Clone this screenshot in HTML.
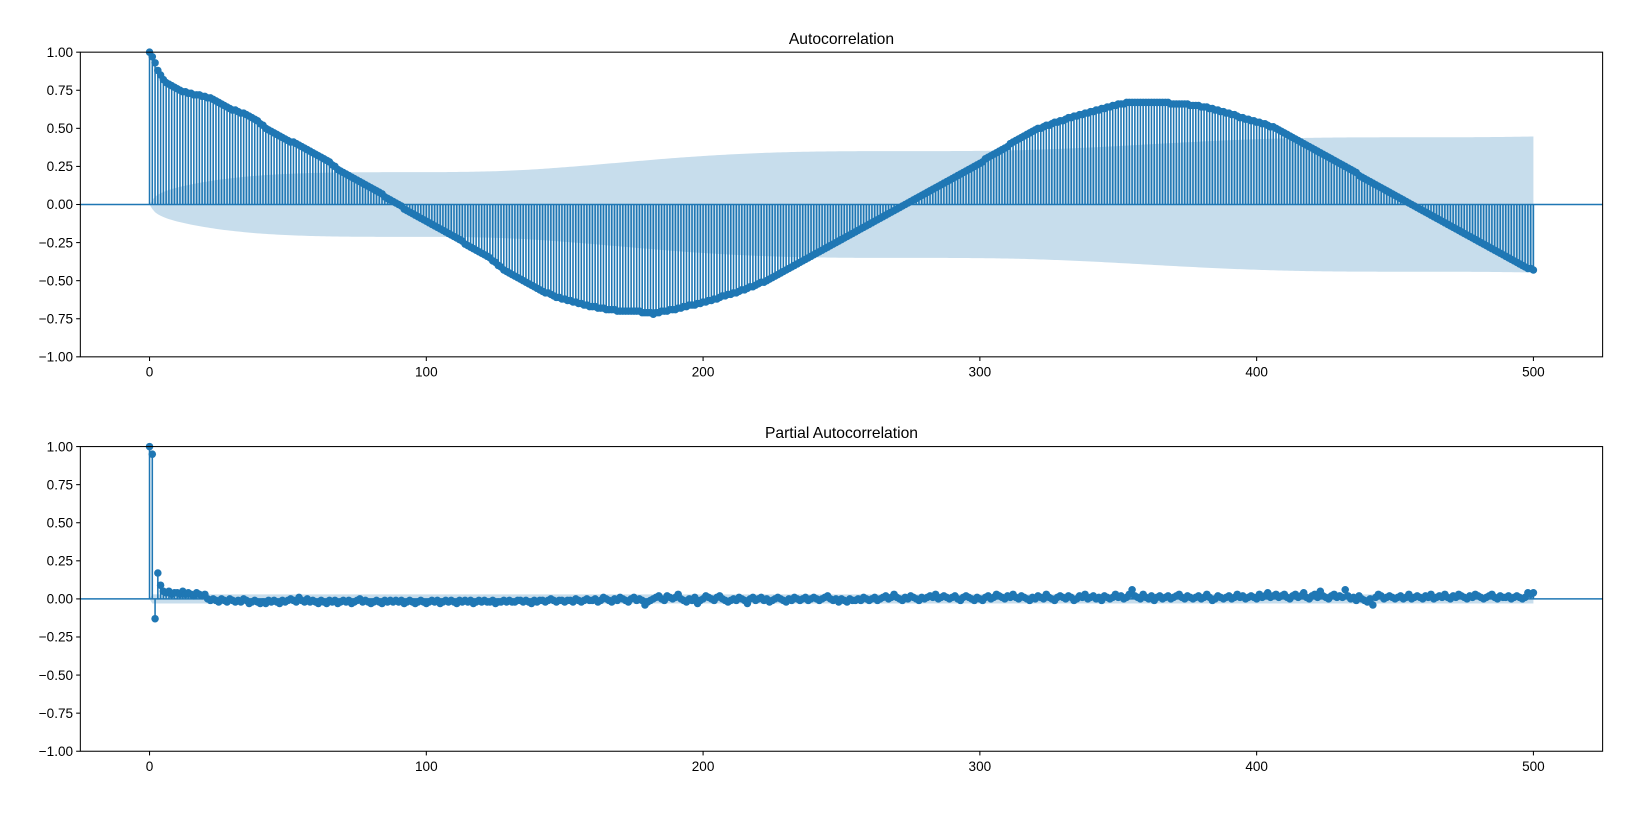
<!DOCTYPE html>
<html><head><meta charset="utf-8"><style>
body{margin:0;background:#fff}
svg text{font-family:"Liberation Sans","DejaVu Sans",sans-serif;fill:#000}
</style></head><body>
<svg id="chart" width="1636" height="808" viewBox="0 0 1568 774.4" preserveAspectRatio="none" xmlns="http://www.w3.org/2000/svg"></svg>
<script>
const lags = Array.from({length:501},(_,i)=>i);
const acfValues = [
1.00,0.97,0.93,0.88,0.85,0.82,0.80,0.79,0.78,0.77,
0.76,0.75,0.74,0.74,0.73,0.73,0.72,0.72,0.72,0.71,
0.71,0.70,0.70,0.69,0.68,0.67,0.66,0.65,0.64,0.63,
0.62,0.62,0.61,0.60,0.60,0.59,0.58,0.57,0.56,0.55,
0.53,0.52,0.50,0.49,0.48,0.47,0.46,0.45,0.44,0.43,
0.42,0.41,0.41,0.40,0.39,0.38,0.37,0.36,0.35,0.34,
0.33,0.32,0.31,0.30,0.29,0.28,0.26,0.25,0.23,0.22,
0.21,0.20,0.19,0.18,0.17,0.16,0.15,0.14,0.13,0.12,
0.11,0.10,0.09,0.08,0.07,0.05,0.04,0.03,0.02,0.01,
0.00,-0.01,-0.03,-0.04,-0.05,-0.06,-0.07,-0.08,-0.09,-0.10,
-0.11,-0.12,-0.13,-0.14,-0.15,-0.16,-0.17,-0.18,-0.19,-0.20,
-0.21,-0.22,-0.23,-0.24,-0.26,-0.27,-0.28,-0.29,-0.30,-0.31,
-0.32,-0.33,-0.34,-0.35,-0.37,-0.38,-0.40,-0.41,-0.43,-0.44,
-0.45,-0.46,-0.47,-0.48,-0.49,-0.50,-0.51,-0.52,-0.53,-0.54,
-0.55,-0.56,-0.57,-0.58,-0.58,-0.59,-0.60,-0.61,-0.61,-0.62,
-0.62,-0.63,-0.63,-0.64,-0.64,-0.65,-0.65,-0.66,-0.66,-0.67,
-0.67,-0.67,-0.68,-0.68,-0.68,-0.69,-0.69,-0.69,-0.69,-0.70,
-0.70,-0.70,-0.70,-0.70,-0.70,-0.70,-0.70,-0.70,-0.71,-0.71,
-0.71,-0.71,-0.72,-0.71,-0.71,-0.70,-0.70,-0.70,-0.69,-0.69,
-0.69,-0.68,-0.68,-0.67,-0.67,-0.66,-0.66,-0.66,-0.65,-0.65,
-0.64,-0.64,-0.63,-0.63,-0.62,-0.62,-0.61,-0.60,-0.60,-0.59,
-0.59,-0.58,-0.58,-0.57,-0.56,-0.56,-0.55,-0.54,-0.54,-0.53,
-0.52,-0.51,-0.51,-0.50,-0.49,-0.48,-0.47,-0.46,-0.45,-0.44,
-0.43,-0.42,-0.41,-0.40,-0.39,-0.38,-0.37,-0.36,-0.35,-0.34,
-0.33,-0.32,-0.31,-0.30,-0.29,-0.28,-0.27,-0.26,-0.25,-0.24,
-0.23,-0.22,-0.21,-0.20,-0.19,-0.18,-0.17,-0.16,-0.15,-0.14,
-0.13,-0.12,-0.11,-0.10,-0.09,-0.08,-0.07,-0.06,-0.05,-0.04,
-0.03,-0.02,-0.01,0.00,0.01,0.02,0.03,0.04,0.05,0.06,
0.07,0.08,0.09,0.10,0.11,0.12,0.13,0.14,0.15,0.16,
0.17,0.18,0.19,0.20,0.21,0.22,0.23,0.24,0.25,0.26,
0.27,0.28,0.30,0.31,0.32,0.33,0.34,0.35,0.36,0.37,
0.38,0.40,0.41,0.42,0.43,0.44,0.45,0.46,0.47,0.48,
0.49,0.50,0.50,0.51,0.52,0.52,0.53,0.54,0.54,0.55,
0.55,0.56,0.57,0.57,0.58,0.58,0.59,0.59,0.60,0.60,
0.61,0.61,0.62,0.62,0.63,0.63,0.64,0.64,0.65,0.65,
0.66,0.66,0.66,0.67,0.67,0.67,0.67,0.67,0.67,0.67,
0.67,0.67,0.67,0.67,0.67,0.67,0.67,0.67,0.67,0.66,
0.66,0.66,0.66,0.66,0.66,0.66,0.65,0.65,0.65,0.65,
0.64,0.64,0.64,0.63,0.63,0.62,0.62,0.61,0.61,0.60,
0.60,0.59,0.59,0.58,0.57,0.57,0.56,0.56,0.55,0.55,
0.54,0.54,0.53,0.53,0.52,0.51,0.51,0.50,0.49,0.48,
0.47,0.46,0.45,0.44,0.43,0.42,0.41,0.40,0.39,0.38,
0.37,0.36,0.35,0.34,0.33,0.32,0.31,0.30,0.29,0.28,
0.27,0.26,0.25,0.24,0.23,0.22,0.21,0.19,0.18,0.17,
0.16,0.15,0.14,0.13,0.12,0.11,0.10,0.09,0.08,0.07,
0.06,0.05,0.04,0.03,0.02,0.01,0.00,-0.01,-0.02,-0.03,
-0.04,-0.05,-0.06,-0.07,-0.08,-0.09,-0.10,-0.11,-0.12,-0.13,
-0.14,-0.15,-0.16,-0.17,-0.18,-0.19,-0.20,-0.21,-0.22,-0.23,
-0.24,-0.25,-0.26,-0.27,-0.28,-0.29,-0.30,-0.31,-0.32,-0.33,
-0.34,-0.35,-0.36,-0.37,-0.38,-0.39,-0.40,-0.41,-0.42,-0.42,
-0.43];
// PACF in hundredths
const pacfHundredths = [
100,95,-13,17,9,5,4,5,3,4,
4,3,5,3,4,3,2,4,3,2,
3,0,-1,0,-1,-2,0,-1,-2,0,
-1,-2,-1,-2,0,-1,-3,-2,-1,-2,
-3,-2,-3,-1,-2,-1,-2,-3,-1,-2,
-1,0,-1,-2,1,-1,-2,0,-2,-1,
-2,-3,-1,-2,-3,-1,-2,-1,-3,-2,
-1,-2,-1,-3,-2,-1,0,-2,-1,-2,
-3,-2,-1,-2,-3,-1,-2,-1,-2,-1,
-2,-1,-3,-2,-1,-2,-3,-2,-1,-2,
-3,-2,-1,-2,-1,-3,-2,-1,-2,-1,
-2,-3,-1,-2,-1,-2,-1,-3,-2,-1,
-2,-1,-2,-2,-1,-3,-2,-2,-1,-2,
-1,-2,-2,-1,-1,-2,-1,-2,-3,-1,
-2,-1,-1,-2,-1,0,-1,-2,-1,-1,
-2,-1,-1,-2,0,-1,-2,-1,0,-1,
-1,0,-2,-1,1,0,-1,-2,0,-1,
1,0,-1,-2,0,1,-1,0,-1,-4,
-2,-1,0,1,2,0,-1,2,1,0,
1,3,0,-1,-2,0,-1,1,-3,-1,
0,2,1,0,-1,1,2,0,-1,-2,
-1,0,-1,1,0,-1,-3,0,1,-1,
0,1,-1,0,-2,-1,0,1,0,-1,
-2,0,-1,1,0,-1,0,1,-1,0,
1,0,-1,0,1,2,0,-1,0,-2,
0,-1,-2,0,-1,-1,0,-1,1,0,
-1,0,1,-1,0,1,2,0,1,3,
1,0,-1,1,0,2,1,0,-1,1,
0,1,2,1,3,0,1,2,1,0,
1,2,0,-1,1,2,1,0,-1,1,
0,-1,1,2,0,1,3,2,1,0,
2,1,3,1,0,2,1,0,-1,1,
0,2,1,0,3,1,0,-1,1,2,
1,0,2,1,-1,0,2,1,3,0,
1,2,0,1,-1,2,1,0,1,3,
1,2,0,1,3,6,2,1,0,3,
1,0,2,-1,1,2,0,1,2,0,
1,2,3,1,0,2,1,0,1,2,
0,1,3,1,-1,0,2,1,0,1,
2,0,1,3,1,2,0,1,2,1,
0,3,1,2,4,1,2,3,1,2,
3,1,0,2,3,1,2,4,1,0,
2,3,1,5,2,1,0,2,3,1,
2,1,6,2,0,1,-1,2,0,-1,
-2,0,-4,1,3,2,0,1,2,1,
0,1,2,0,1,3,0,1,2,1,
0,2,1,3,0,1,2,1,3,1,
0,2,1,3,2,1,0,2,1,3,
2,1,0,1,2,3,1,0,2,1,
1,2,0,1,2,1,0,1,4,3,
4];
const yTicks = [1.00,0.75,0.50,0.25,0.00,-0.25,-0.50,-0.75,-1.00];
const xTicks = [0,100,200,300,400,500];
const nObs = 4300;

const NS='http://www.w3.org/2000/svg';
const svg=document.getElementById('chart');
const C='#1f77b4';
function mk(tag,attrs,parent){const e=document.createElementNS(NS,tag);for(const k in attrs)e.setAttribute(k,attrs[k]);(parent||svg).appendChild(e);return e;}

function panel(top,bottom,title,values,band,name){
  const L=77,R=1536;
  const g=mk('g',{});
  
  
  const xs=v=>L+(v+25)/550*(R-L);
  const ys=v=>top+(1-v)/2*(bottom-top);
  let up='';
  for(let i=0;i<lags.length;i++){up+=(i?'L':'M')+xs(lags[i])+','+ys(band[i]);}
  for(let i=lags.length-1;i>=0;i--){up+='L'+xs(lags[i])+','+ys(-band[i]);}
  const b=mk('path',{d:up+'Z',fill:C,'fill-opacity':0.25,stroke:'none'},g);
  
  
  let sd='';
  for(let i=0;i<lags.length;i++){sd+='M'+xs(lags[i])+','+ys(0)+'V'+ys(values[i]);}
  const st=mk('path',{d:sd,stroke:C,'stroke-width':1.5,fill:'none'},g);
  
  
  const zl=mk('line',{x1:L,x2:R,y1:ys(0),y2:ys(0),stroke:C,'stroke-width':1.5},g);
  
  
  for(let i=0;i<lags.length;i++){
    const c=mk('circle',{cx:xs(lags[i]),cy:ys(values[i]),r:3.6,fill:C},g);
    
    
  }
  const fr=mk('rect',{x:L,y:top,width:R-L,height:bottom-top,fill:'none',stroke:'#000','stroke-width':1},g);
  
  
  for(const t of yTicks){
    mk('line',{x1:L-4,x2:L,y1:ys(t),y2:ys(t),stroke:'#000'},g);
    const tx=mk('text',{x:L-7,y:ys(t)+4.5,'text-anchor':'end','font-size':13},g);
    tx.textContent=t.toFixed(2).replace('-','−');
    
    
  }
  for(const t of xTicks){
    mk('line',{x1:xs(t),x2:xs(t),y1:bottom,y2:bottom+4,stroke:'#000'},g);
    const tx=mk('text',{x:xs(t),y:bottom+19,'text-anchor':'middle','font-size':13},g);
    tx.textContent=t;
    
    
  }
  const tt=mk('text',{x:(L+R)/2,y:top-8,'text-anchor':'middle','font-size':15},g);
  tt.textContent=title;
  
  
}
const acfBand=[0];let s=0;
for(let i=1;i<acfValues.length;i++){acfBand.push(1.96*Math.sqrt((1+2*s)/nObs));s+=acfValues[i]*acfValues[i];}
const pacfValues=pacfHundredths.map(v=>v/100);
const pacfBand=lags.map(l=>l===0?0:1.96/Math.sqrt(nObs));
panel(50,342,'Autocorrelation',acfValues,acfBand,'acf-panel');
panel(428,720,'Partial Autocorrelation',pacfValues,pacfBand,'pacf-panel');
</script>
</body></html>
